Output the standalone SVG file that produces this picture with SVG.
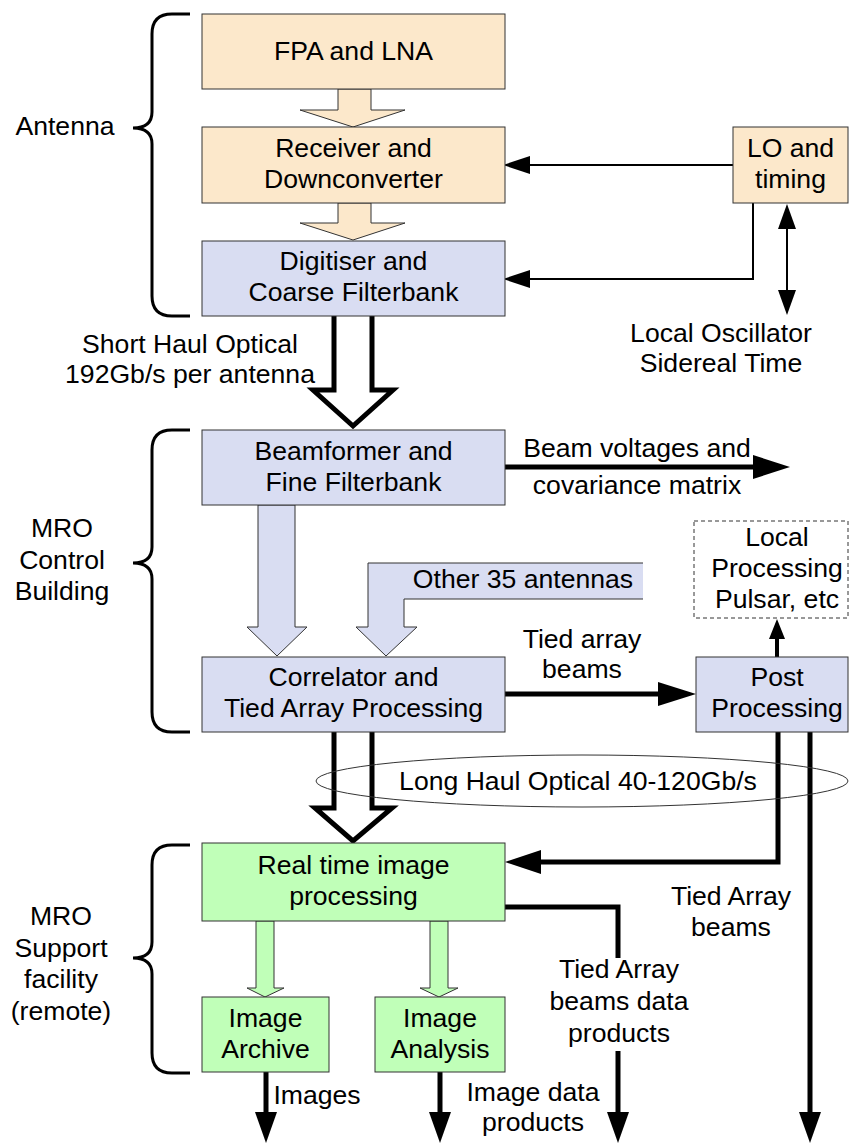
<svg xmlns="http://www.w3.org/2000/svg" width="849" height="1144" viewBox="0 0 849 1144">
<style>
text{font-family:"Liberation Sans",Arial,sans-serif;font-size:26.6px;fill:#000;text-anchor:middle}
.beige{fill:#FCE8CB;stroke:#333;stroke-width:1}
.blue{fill:#D9DDF2;stroke:#333;stroke-width:1}
.green{fill:#C0FFB8;stroke:#333;stroke-width:1}
.thin{fill:none;stroke:#000;stroke-width:2}
.thick{fill:none;stroke:#000;stroke-width:5}
.head{fill:#000;stroke:none}
.brace{fill:none;stroke:#000;stroke-width:3}
</style>
<rect width="849" height="1144" fill="#fff"/>
<g id="braces">
<path class="brace" d="M190,14 H172 Q152,14 152,34 V112 Q152,128 133,128 Q152,128 152,144 V296 Q152,316 172,316 H190"/>
<path class="brace" d="M190,430 H172 Q152,430 152,450 V547 Q152,563 133,563 Q152,563 152,579 V712 Q152,732 172,732 H190"/>
<path class="brace" d="M190,845 H172 Q152,845 152,865 V942 Q152,958 133,958 Q152,958 152,974 V1053 Q152,1073 172,1073 H190"/>
<text x="65" y="135">Antenna</text>
<text x="62" y="537">MRO</text>
<text x="62" y="569">Control</text>
<text x="62" y="600">Building</text>
<text x="61" y="925">MRO</text>
<text x="61" y="957">Support</text>
<text x="61" y="988">facility</text>
<text x="61" y="1020">(remote)</text>
</g>
<g id="connectors">
<polygon class="beige" points="338,89 338,110 300,110 353,127 405,110 371,110 371,89"/>
<polygon class="beige" points="338,203 338,223 300,223 353,240 405,223 371,223 371,203"/>
<polygon class="blue" points="258,505 258,627 247,627 277,656 307,627 295,627 295,505"/>
<polygon fill="#D9DDF2" points="368,563 643,563 643,599 404,599 404,627 417,627 386,656 356,627 368,627"/>
<polyline fill="none" stroke="#333" stroke-width="1" points="643,563 368,563 368,627 356,627 386,656 417,627 404,627 404,599 643,599"/>
<polygon class="green" points="256,921 256,988 247,988 265,997 284,988 274,988 274,921"/>
<polygon class="green" points="430,921 430,988 420,988 439,997 458,988 448,988 448,921"/>
<polyline fill="#fff" stroke="#000" stroke-width="5" stroke-linejoin="miter" points="334,316 334,390 313,390 353,426 393,390 372,390 372,316"/>
<polyline fill="#fff" stroke="#000" stroke-width="5" stroke-linejoin="miter" points="334,732 334,808 315,808 353,841 392,808 372,808 372,732"/>
<line class="thin" x1="733" y1="165" x2="528" y2="165"/>
<polygon class="head" points="503,165 530,156 530,174"/>
<polyline class="thin" points="753,203 753,279 528,279"/>
<polygon class="head" points="503,279 530,270 530,288"/>
<line class="thin" x1="787" y1="228" x2="787" y2="291"/>
<polygon class="head" points="787,204 778,229 796,229"/>
<polygon class="head" points="787,315 778,290 796,290"/>
<line class="thick" x1="505" y1="467" x2="756" y2="467"/>
<polygon class="head" points="790,467 753,455 753,479"/>
<line class="thick" x1="505" y1="694" x2="660" y2="694"/>
<polygon class="head" points="696,694 658,682 658,706"/>
<line stroke="#000" stroke-width="4" x1="777" y1="657" x2="777" y2="636"/>
<polygon class="head" points="777,619 769,639 785,639"/>
<polyline class="thick" points="778,732 778,862 539,862"/>
<polygon class="head" points="505,862 541,850 541,874"/>
<line class="thick" x1="810" y1="732" x2="810" y2="1114"/>
<polygon class="head" points="810,1143 799,1112 821,1112"/>
<polyline class="thick" points="505,907 618,907 618,958"/>
<line class="thick" x1="618" y1="1051" x2="618" y2="1114"/>
<polygon class="head" points="618,1143 607,1112 629,1112"/>
<line class="thick" x1="266" y1="1072" x2="266" y2="1114"/>
<polygon class="head" points="266,1143 255,1112 277,1112"/>
<line class="thick" x1="440" y1="1072" x2="440" y2="1114"/>
<polygon class="head" points="440,1143 429,1112 451,1112"/>
<ellipse cx="582" cy="781" rx="266" ry="26" fill="none" stroke="#333" stroke-width="1"/>
<text x="578" y="790">Long Haul Optical 40-120Gb/s</text>
<text x="190" y="353">Short Haul Optical</text>
<text x="190" y="383">192Gb/s per antenna</text>
<text x="721" y="342">Local Oscillator</text>
<text x="721" y="372">Sidereal Time</text>
<text x="637" y="457">Beam voltages and</text>
<text x="637" y="494">covariance matrix</text>
<text x="523" y="588">Other 35 antennas</text>
<text x="582" y="648">Tied array</text>
<text x="582" y="678">beams</text>
<text x="731" y="905">Tied Array</text>
<text x="731" y="936">beams</text>
<text x="619" y="978">Tied Array</text>
<text x="619" y="1010">beams data</text>
<text x="619" y="1042">products</text>
<text x="317" y="1104">Images</text>
<text x="533" y="1101">Image data</text>
<text x="533" y="1131">products</text>
</g>
<g id="fpa"><rect class="beige" x="202" y="14" width="303" height="75"/><text x="353.5" y="60">FPA and LNA</text></g>
<g id="receiver"><rect class="beige" x="202" y="127" width="303" height="76"/><text x="353.5" y="157">Receiver and</text><text x="353.5" y="188">Downconverter</text></g>
<g id="digitiser"><rect class="blue" x="202" y="241" width="303" height="75"/><text x="353.5" y="270">Digitiser and</text><text x="353.5" y="301">Coarse Filterbank</text></g>
<g id="lo"><rect class="beige" x="733" y="127" width="115" height="76"/><text x="790.5" y="157">LO and</text><text x="790.5" y="188">timing</text></g>
<g id="beamformer"><rect class="blue" x="202" y="430" width="303" height="75"/><text x="353.5" y="460">Beamformer and</text><text x="353.5" y="491">Fine Filterbank</text></g>
<g id="localproc"><rect x="694" y="521" width="154" height="97" fill="#fff" stroke="#333" stroke-width="1" stroke-dasharray="4,3"/><text x="777" y="546">Local</text><text x="777" y="577">Processing</text><text x="777" y="608">Pulsar, etc</text></g>
<g id="correlator"><rect class="blue" x="202" y="657" width="303" height="75"/><text x="353.5" y="686">Correlator and</text><text x="353.5" y="717">Tied Array Processing</text></g>
<g id="post"><rect class="blue" x="696" y="657" width="152" height="75"/><text x="777" y="686">Post</text><text x="777" y="717">Processing</text></g>
<g id="realtime"><rect class="green" x="202" y="843" width="303" height="78"/><text x="353.5" y="874">Real time image</text><text x="353.5" y="905">processing</text></g>
<g id="archive"><rect class="green" x="202" y="997" width="127" height="75"/><text x="265.5" y="1027">Image</text><text x="265.5" y="1058">Archive</text></g>
<g id="analysis"><rect class="green" x="375" y="997" width="130" height="75"/><text x="440" y="1027">Image</text><text x="440" y="1058">Analysis</text></g>
</svg>
